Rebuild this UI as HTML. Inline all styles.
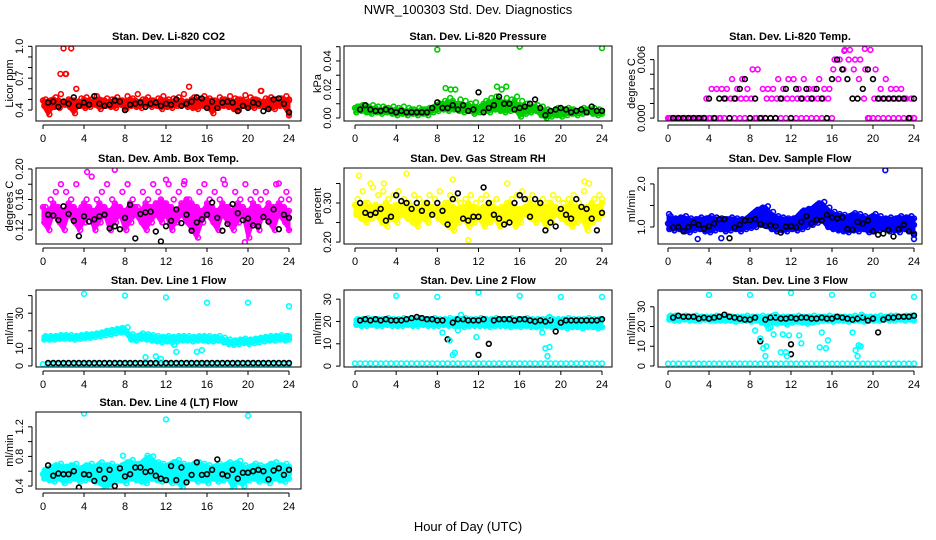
<!DOCTYPE html>
<html><head><meta charset="utf-8"><style>
html,body{margin:0;padding:0;background:#fff;}
svg{display:block;font-family:"Liberation Sans",Arial,sans-serif;}
</style></head><body>
<svg id="chart" width="936" height="540" viewBox="0 0 936 540" xmlns="http://www.w3.org/2000/svg">
<rect x="0" y="0" width="936" height="540" fill="#fff"/>
<text x="468" y="14" text-anchor="middle" font-size="13">NWR_100303 Std. Dev. Diagnostics</text>
<text x="468" y="531" text-anchor="middle" font-size="13">Hour of Day (UTC)</text>
</svg>
<script>
// ---------- data ----------
const hourTicks = [0,4,8,12,16,20,24];

const co2Hi = [0.50,0.49,0.52,0.55,0.74,0.98,0.60,0.51,0.52,0.50,0.53,0.49,0.51,0.50,0.52,0.49,0.53,0.51,0.55,0.50,0.52,0.49,0.51,0.53,0.50,0.51,0.52,0.55,0.62,0.52,0.50,0.53,0.51,0.49,0.52,0.50,0.53,0.51,0.50,0.54,0.52,0.50,0.58,0.51,0.52,0.50,0.51,0.53,0.50];
const co2Lo = [0.44,0.36,0.43,0.42,0.45,0.43,0.37,0.44,0.42,0.43,0.45,0.41,0.44,0.43,0.42,0.45,0.41,0.44,0.43,0.42,0.45,0.43,0.44,0.41,0.43,0.42,0.44,0.45,0.43,0.42,0.41,0.44,0.43,0.37,0.42,0.44,0.43,0.41,0.40,0.44,0.43,0.42,0.44,0.43,0.42,0.41,0.44,0.43,0.35];
const co2Mid = [0.49,0.48,0.50,0.49,0.48,0.50,0.49,0.48,0.50,0.49,0.48,0.50,0.49,0.48,0.50,0.49,0.48,0.50,0.49,0.48,0.50,0.49,0.48,0.50,0.49,0.48,0.50,0.49,0.48,0.50,0.49,0.48,0.50,0.49,0.48,0.50,0.49,0.48,0.50,0.49,0.48,0.50,0.49,0.48,0.50,0.49,0.48,0.50,0.49];
const co2Blk = [0.47,0.48,0.43,0.48,0.46,0.52,0.44,0.47,0.45,0.53,0.46,0.44,0.45,0.49,0.48,0.40,0.45,0.46,0.47,0.43,0.46,0.47,0.44,0.46,0.45,0.50,0.44,0.46,0.48,0.52,0.51,0.42,0.48,0.42,0.47,0.48,0.47,0.39,0.44,0.42,0.47,0.46,0.39,0.41,0.50,0.51,0.46,0.38];
const co2OutX = [1.7,2.0,2.2,21.3];
const co2OutY = [0.74,0.98,0.74,0.58];

const presHi = [0.008,0.009,0.008,0.009,0.008,0.008,0.007,0.008,0.007,0.008,0.007,0.006,0.007,0.006,0.007,0.008,0.010,0.012,0.014,0.020,0.013,0.012,0.010,0.011,0.008,0.012,0.014,0.015,0.020,0.014,0.013,0.015,0.012,0.010,0.008,0.009,0.008,0.006,0.004,0.007,0.006,0.007,0.006,0.005,0.007,0.006,0.007,0.006,0.005];
const presLo = [0.004,0.005,0.004,0.003,0.004,0.003,0.004,0.003,0.002,0.003,0.002,0.003,0.002,0.003,0.002,0.004,0.005,0.006,0.005,0.006,0.005,0.004,0.005,0.003,0.004,0.005,0.004,0.006,0.005,0.004,0.005,0.006,0.001,0.003,0.004,0.005,0.002,0.000,0.001,0.002,0.001,0.002,0.003,0.002,0.003,0.004,0.003,0.002,0.003];
const presMid = [0.007,0.008,0.007,0.007,0.007,0.006,0.007,0.006,0.006,0.006,0.005,0.006,0.005,0.006,0.006,0.007,0.009,0.010,0.011,0.012,0.010,0.009,0.009,0.008,0.007,0.010,0.011,0.012,0.013,0.011,0.010,0.012,0.009,0.008,0.007,0.008,0.006,0.005,0.004,0.006,0.005,0.006,0.006,0.005,0.006,0.006,0.006,0.005,0.005];
const presBlk = [0.006,0.009,0.006,0.005,0.005,0.006,0.005,0.004,0.005,0.004,0.004,0.004,0.004,0.004,0.007,0.011,0.007,0.007,0.009,0.006,0.009,0.005,0.006,0.018,0.004,0.007,0.009,0.015,0.010,0.010,0.006,0.007,0.008,0.010,0.013,0.007,0.002,0.005,0.006,0.007,0.006,0.004,0.005,0.006,0.004,0.008,0.005,0.005];
const presOutX = [8,16,24,8.8,9.3,13.8,14.7];
const presOutY = [0.048,0.050,0.049,0.021,0.020,0.022,0.022];

const tempHi = [0,0,0,0,0,0,0,0.002,0.003,0.003,0.003,0.003,0.004,0.003,0.004,0.003,0.005,0.005,0.003,0.003,0.003,0.004,0.003,0.004,0.004,0.003,0.004,0.003,0.003,0.004,0.003,0.003,0.006,0.006,0.007,0.007,0.006,0.006,0.005,0.007,0.005,0.003,0.004,0.003,0.003,0.003,0.002,0.002,0];
const tempLo = [0,0,0,0,0,0,0,0,0,0,0,0.002,0.002,0.002,0.002,0.002,0.002,0,0,0.002,0.002,0.002,0.002,0.002,0.002,0.002,0.002,0.002,0.002,0.002,0.002,0.002,0.005,0.004,0.005,0.006,0.005,0.004,0.002,0,0.002,0.002,0.002,0.002,0.002,0.002,0.002,0,0];
const tempMid = [0,0,0,0,0,0,0,0,0,0,0,0,0,0,0,0,0,0,0,0,0,0,0,0,0,0,0,0,0,0,0,0,0,null,null,null,null,null,null,0,0,0,0,0,0,0,0,0,0];
const tempBlk = [0,0,0,0,0,0,0,0.002,0,0.002,0.002,0,0.002,0.003,0.004,0,0.002,0,0,0,0,0.002,0.003,0,0.003,0.002,0.003,0.002,0.003,0.002,0,0.004,0.006,0.005,0.004,0.002,0.002,0.003,0.005,0.004,0.002,0.002,0.002,0.002,0.002,0.002,0,0.002];
const tempOutX = [19.2,17.2];
const tempOutY = [0.0071,0.0069];

const ambHi = [0.15,0.16,0.17,0.18,0.17,0.16,0.18,0.15,0.16,0.19,0.16,0.17,0.18,0.16,0.15,0.17,0.18,0.16,0.15,0.17,0.16,0.18,0.17,0.15,0.18,0.16,0.17,0.18,0.16,0.15,0.17,0.18,0.16,0.17,0.16,0.18,0.15,0.17,0.16,0.18,0.16,0.17,0.16,0.17,0.15,0.18,0.16,0.17,0.16];
const ambLo = [0.13,0.12,0.14,0.13,0.12,0.14,0.13,0.12,0.13,0.14,0.12,0.13,0.14,0.12,0.13,0.14,0.12,0.13,0.14,0.13,0.12,0.13,0.14,0.13,0.14,0.12,0.13,0.14,0.13,0.12,0.11,0.13,0.14,0.13,0.12,0.14,0.13,0.12,0.13,0.14,0.11,0.13,0.12,0.14,0.13,0.12,0.14,0.13,0.12];
const ambMid = [0.150,0.145,0.155,0.150,0.145,0.155,0.150,0.145,0.155,0.150,0.145,0.155,0.150,0.145,0.155,0.150,0.145,0.155,0.150,0.145,0.155,0.150,0.155,0.160,0.155,0.150,0.145,0.155,0.160,0.155,0.150,0.145,0.155,0.150,0.145,0.155,0.150,0.145,0.155,0.150,0.145,0.155,0.150,0.145,0.155,0.150,0.155,0.150,0.145];
const ambBlk = [0.14,0.139,0.133,0.151,0.141,0.132,0.112,0.138,0.131,0.134,0.138,0.14,0.122,0.125,0.121,0.136,0.153,0.109,0.141,0.143,0.144,0.118,0.105,0.125,0.132,0.147,0.129,0.14,0.119,0.13,0.134,0.14,0.156,0.136,0.119,0.128,0.154,0.142,0.133,0.135,0.126,0.125,0.137,0.131,0.147,0.121,0.14,0.136];
const ambOutX = [4.3,7,19.7,12,13.8,17.6,23];
const ambOutY = [0.196,0.199,0.104,0.186,0.184,0.186,0.181];

const rhHi = [0.31,0.33,0.30,0.34,0.32,0.33,0.31,0.32,0.33,0.31,0.30,0.32,0.31,0.30,0.32,0.31,0.33,0.30,0.32,0.31,0.30,0.31,0.32,0.30,0.31,0.32,0.30,0.31,0.29,0.30,0.31,0.32,0.33,0.31,0.32,0.30,0.31,0.30,0.32,0.31,0.30,0.31,0.32,0.30,0.33,0.35,0.31,0.32,0.31];
const rhLo = [0.27,0.26,0.25,0.26,0.27,0.25,0.24,0.26,0.25,0.27,0.26,0.25,0.24,0.26,0.25,0.27,0.26,0.25,0.24,0.23,0.25,0.26,0.24,0.25,0.26,0.24,0.25,0.26,0.24,0.25,0.26,0.24,0.25,0.27,0.26,0.25,0.26,0.24,0.25,0.27,0.26,0.25,0.24,0.25,0.26,0.23,0.25,0.26,0.27];
const rhMid = [0.295,0.29,0.30,0.29,0.295,0.29,0.30,0.29,0.295,0.29,0.30,0.29,0.285,0.29,0.30,0.29,0.285,0.29,0.30,0.29,0.285,0.29,0.30,0.29,0.285,0.29,0.30,0.29,0.285,0.29,0.30,0.29,0.285,0.29,0.30,0.29,0.30,0.29,0.30,0.29,0.285,0.29,0.30,0.29,0.285,0.29,0.30,0.29,0.30];
const rhBlk = [0.30,0.275,0.27,0.275,0.285,0.255,0.265,0.32,0.305,0.30,0.285,0.30,0.28,0.30,0.27,0.30,0.28,0.245,0.31,0.325,0.26,0.255,0.265,0.265,0.34,0.30,0.27,0.26,0.245,0.25,0.30,0.32,0.31,0.265,0.31,0.30,0.23,0.25,0.24,0.285,0.27,0.26,0.31,0.29,0.285,0.26,0.23,0.275];
const rhOutX = [0.4,5,9.5,11,1.5,2.8,14.8,22.3];
const rhOutY = [0.37,0.375,0.36,0.205,0.35,0.35,0.35,0.355];

const sfHi = [1.25,1.2,1.22,1.25,1.2,1.18,1.22,1.2,1.25,1.22,1.2,1.18,1.22,1.2,1.18,1.2,1.3,1.4,1.45,1.48,1.35,1.25,1.22,1.2,1.2,1.25,1.38,1.42,1.45,1.55,1.58,1.45,1.35,1.3,1.28,1.25,1.32,1.3,1.25,1.22,1.3,1.25,1.2,1.22,1.2,1.25,1.22,1.25,1.2];
const sfLo = [0.95,0.92,0.95,0.9,0.88,0.93,0.95,0.9,0.88,0.92,0.95,0.9,0.92,0.95,0.9,0.95,0.98,1.0,1.05,1.02,0.95,0.9,0.92,0.9,0.95,0.92,0.95,1.0,1.05,1.1,1.15,1.0,0.95,0.92,0.9,0.88,0.92,0.9,0.95,0.88,0.9,0.92,0.95,0.9,0.92,0.88,0.95,0.9,0.85];
const sfMid = [1.08,1.1,1.05,1.08,1.1,1.05,1.08,1.1,1.05,1.08,1.1,1.05,1.08,1.1,1.05,1.1,1.15,1.2,1.25,1.22,1.15,1.1,1.08,1.05,1.1,1.1,1.15,1.2,1.3,1.35,1.38,1.25,1.15,1.12,1.1,1.08,1.12,1.1,1.08,1.05,1.1,1.08,1.05,1.1,1.08,1.05,1.1,1.08,1.05];
const sfBlk = [0.99,1.0,0.9,1.0,1.1,1.05,0.96,1.02,1.08,1.18,1.18,0.74,0.99,1.05,1.15,1.16,1.18,1.07,1.03,1.04,1.02,0.87,1.01,1.02,0.99,1.12,1.25,1.08,1.17,1.15,1.28,1.22,1.2,1.22,0.95,0.94,1.12,1.08,1.15,0.9,0.82,0.85,0.93,0.78,0.95,1.05,0.9,0.82];
const sfOutX = [21.2,0.1,24,2.9,5.2];
const sfOutY = [2.32,1.3,0.72,0.72,0.74];

const l1Hi = [17,17,17,17.5,17.5,17.5,17,17.5,18,18,18.5,19,20,20.5,21,21.5,22,18,17,18.5,18,17.5,17,16.5,17,16.5,17,17,17,16.5,17,17,17,16.5,17,16,15,14.5,15,15.5,15,15.5,16,16.5,17,17,17.5,17,17];
const l1Lo = [15,15,15,15.5,15.5,15.5,15,15.5,16,16,16.5,17,17.5,18,18.5,19,19,15,14.5,15.5,15,14.5,14,13.5,14,13.5,14,14.5,14.5,14,14.5,14.5,14,14,14.5,13.5,12.5,12,12.5,13,12.5,13,13.5,14,14.5,14.5,15,14.5,15];
const l1Base = [1,1,1,1,1,1,1,1,1,1,1,1,1,1,1,1,1,1,1,1,1,1,1,1,1,1,1,1,1,1,1,1,1,1,1,1,1,1,1,1,1,1,1,1,1,1,1,1,1];
const l1Blk = [1.7,1.7,1.7,1.7,1.7,1.7,1.7,1.7,1.7,1.7,1.7,1.7,1.7,1.7,1.7,1.7,1.7,1.7,1.7,1.7,1.7,1.7,1.7,1.7,1.7,1.7,1.7,1.7,1.7,1.7,1.7,1.7,1.7,1.7,1.7,1.7,1.7,1.7,1.7,1.7,1.7,1.7,1.7,1.7,1.7,1.7,1.7,1.7];
const l1OutX = [4,8,12,16,20,24,10,11,11.5,15,15.5,12.8,13];
const l1OutY = [41,40,39,36,36,34,5,5.5,4,8,9,12,8];

const l2Hi = [21,21,21.5,21,21,21,21.5,21,21,21.5,21,21,21.5,21,21,21.5,21,21,21.5,21,21,21.5,21,21,21.5,21,21,21.5,21,21,21.5,21,21,21.5,21,21,21,21.5,21,21,21,21.5,21,21,21,21.5,21,21,21];
const l2Lo = [18.5,18,18,18.5,18,18,18.5,18,18,18,18.5,18,18,18.5,18,18,18,18.5,18,18,18,17.5,18,18,18,18,17.5,18,18,18,17.5,18,17.5,18,17.5,17.5,17.5,18,17.5,17.5,17.5,17,17.5,17.5,17,17.5,17.5,17,17.5];
const l2Base = [1.2,1.2,1.2,1.2,1.2,1.2,1.2,1.2,1.2,1.2,1.2,1.2,1.2,1.2,1.2,1.2,1.2,1.2,1.2,1.2,1.2,1.2,1.2,1.2,1.2,1.2,1.2,1.2,1.2,1.2,1.2,1.2,1.2,1.2,1.2,1.2,1.2,1.2,1.2,1.2,1.2,1.2,1.2,1.2,1.2,1.2,1.2,1.2,1.2];
const l2Blk = [20.5,21,20.5,21,20.5,21,20.5,20.5,20.5,21,21.5,22,21.5,21,21,20.5,20.5,12,19.5,21,21,20.5,20.5,20.5,21,10,20.5,21,21,21,20.5,21,21,20.5,20,20.5,20,20.5,15.5,19.5,20.5,20.5,20.5,20.5,20.5,20.5,20.5,21];
const l2OutX = [4,8,12,16,20,24,8.5,9.2,9.5,9.7,10,11.8,18.2,18.5,18.7,18.9,10.3,18.9];
const l2OutY = [31.5,31,33,31.5,31,31,15,11.5,5,6,16,13,15,8,4.5,8.5,23,22];

const l3Hi = [25.5,25.5,25,25.5,25,25.5,25,25,25,25.5,25,25.5,25,25,25,25.5,25,25,25.5,25,25.5,25,25,25,25,25.5,25,25,25.5,25,25,25.5,25,25,25,25,25.5,25,25,25,25,25.5,25,25.5,25.5,25,25.5,25.5,25.5];
const l3Lo = [23.5,23,23,23.5,23,23,23,23.5,23,23,23,23,23,22.5,23,23,22.5,23,22,21,22,21.5,22,21,22,22.5,22,21.5,22,22.5,23,23,22.5,23,23,22.5,23,23,22.5,23,23,23,23.5,23,23,23.5,23,23.5,23];
const l3Base = [1.2,1.2,1.2,1.2,1.2,1.2,1.2,1.2,1.2,1.2,1.2,1.2,1.2,1.2,1.2,1.2,1.2,1.2,1.2,1.2,1.2,1.2,1.2,1.2,1.2,1.2,1.2,1.2,1.2,1.2,1.2,1.2,1.2,1.2,1.2,1.2,1.2,1.2,1.2,1.2,1.2,1.2,1.2,1.2,1.2,1.2,1.2,1.2,1.2];
const l3Blk = [24.5,25.5,25,25,25,24,24.5,24,24.5,25,26,25,24.5,24,23.5,23.5,24.5,12.5,23.5,24.5,24.5,24,24,24.5,24,24.5,24.5,24,24,24.5,24,24,25,24.5,24,23.5,24,24.5,23,24,17,23.5,24.5,24.5,25,25,25,25.5];
const l3OutX = [4,8,12,16,20,24,8.5,9,9.3,9.6,9.5,9.8,10,10.3,10.5,11,11.2,11.5,11.6,11.8,12.8,13,14.8,15,15.4,15.6,18,18.3,18.5,18.6,18.8,18.9];
const l3OutY = [36,36,37,36,36,35,18,14,9,10,5,19,19.5,16,26,7,16,7,5,15.5,15.5,11.5,9.5,17,9,13,17,8,5,10.5,10,26];

const l4Hi = [0.62,0.65,0.68,0.7,0.66,0.68,0.7,0.64,0.68,0.7,0.66,0.72,0.68,0.7,0.66,0.68,0.72,0.75,0.7,0.72,0.78,0.8,0.72,0.7,0.68,0.72,0.75,0.7,0.68,0.7,0.72,0.7,0.68,0.66,0.7,0.68,0.72,0.7,0.74,0.68,0.66,0.7,0.68,0.66,0.7,0.72,0.68,0.7,0.66];
const l4Lo = [0.5,0.48,0.46,0.5,0.44,0.48,0.5,0.46,0.48,0.5,0.46,0.44,0.38,0.42,0.46,0.48,0.44,0.5,0.48,0.46,0.44,0.5,0.48,0.46,0.48,0.44,0.46,0.38,0.48,0.5,0.46,0.48,0.44,0.5,0.46,0.48,0.5,0.38,0.46,0.4,0.48,0.5,0.46,0.48,0.44,0.5,0.48,0.46,0.5];
const l4Mid = [0.56,0.58,0.57,0.59,0.56,0.58,0.57,0.59,0.56,0.58,0.57,0.59,0.56,0.58,0.6,0.59,0.56,0.58,0.6,0.62,0.6,0.58,0.6,0.58,0.56,0.58,0.6,0.58,0.56,0.58,0.57,0.59,0.56,0.58,0.57,0.59,0.56,0.58,0.57,0.59,0.56,0.58,0.57,0.59,0.56,0.58,0.57,0.59,0.57];
const l4Blk = [0.68,0.54,0.57,0.56,0.56,0.6,0.38,0.56,0.55,0.47,0.62,0.5,0.62,0.4,0.64,0.53,0.56,0.65,0.65,0.59,0.6,0.54,0.5,0.48,0.67,0.48,0.65,0.45,0.55,0.72,0.55,0.56,0.62,0.76,0.56,0.54,0.62,0.5,0.58,0.58,0.6,0.62,0.6,0.49,0.61,0.64,0.55,0.62];
const l4OutX = [4,12,20,7.8,10.2,5.8,18.4];
const l4OutY = [1.38,1.3,1.35,0.81,0.81,0.33,0.34];

// ---------- layout ----------
const cols = [{l:36,r:301,x0:43,x24:289},{l:344,r:612,x0:355,x24:602},{l:658,r:922,x0:668,x24:914}];
const rows = [{t:46,b:121},{t:168,b:244},{t:290,b:367},{t:412,b:489}];

const panels = [
 {name:'co2',title:'Stan. Dev. Li-820 CO2',ylab:'Licor ppm',c:0,r:0,ymin:0.297,ymax:1.003,color:'#ff0000',
  ticks:[0.4,0.5,0.6,0.7,0.8,0.9,1.0],labels:{'0.4':'0.4','0.7':'0.7','1':'1.0'},series:[co2Mid,co2Hi,co2Lo],band:[co2Mid,co2Lo],blk:co2Blk,ox:co2OutX,oy:co2OutY},
 {name:'pressure',title:'Stan. Dev. Li-820 Pressure',ylab:'kPa',c:1,r:0,ymin:-0.0021,ymax:0.0505,color:'#00cc00',
  ticks:[0,0.01,0.02,0.03,0.04,0.05],labels:{'0':'0.00','0.02':'0.02','0.04':'0.04'},series:[presMid,presHi,presLo],band:[presMid,presLo],blk:presBlk,ox:presOutX,oy:presOutY},
 {name:'temp',title:'Stan. Dev. Li-820 Temp.',ylab:'degrees C',c:2,r:0,ymin:-0.0003,ymax:0.0074,color:'#ff00ff',
  ticks:[0,0.0015,0.003,0.0045,0.006],labels:{'0':'0.000','0.006':'0.006'},series:[tempMid,tempHi,tempLo],band:null,blk:tempBlk,ox:tempOutX,oy:tempOutY},
 {name:'amb-temp',title:'Stan. Dev. Amb. Box Temp.',ylab:'degrees C',c:0,r:1,ymin:0.1016,ymax:0.2013,color:'#ff00ff',
  ticks:[0.12,0.14,0.16,0.18,0.20],labels:{'0.12':'0.12','0.16':'0.16','0.2':'0.20'},series:[ambMid,ambHi,ambLo],band:[ambMid,ambLo],blk:ambBlk,ox:ambOutX,oy:ambOutY},
 {name:'rh',title:'Stan. Dev. Gas Stream RH',ylab:'percent',c:1,r:1,ymin:0.195,ymax:0.3897,color:'#ffff00',
  ticks:[0.20,0.25,0.30,0.35],labels:{'0.2':'0.20','0.3':'0.30'},series:[rhMid,rhHi,rhLo],band:[rhMid,rhLo],blk:rhBlk,ox:rhOutX,oy:rhOutY},
 {name:'sample-flow',title:'Stan. Dev. Sample Flow',ylab:'ml/min',c:2,r:1,ymin:0.605,ymax:2.37,color:'#0000ff',
  ticks:[1.0,1.5,2.0],labels:{'1':'1.0','2':'2.0'},series:[sfMid,sfHi,sfLo],band:[sfHi,sfLo],blk:sfBlk,ox:sfOutX,oy:sfOutY},
 {name:'line1',title:'Stan. Dev. Line 1 Flow',ylab:'ml/min',c:0,r:2,ymin:-0.6,ymax:43.2,color:'#00ffff',
  ticks:[0,10,20,30,40],labels:{'0':'0','10':'10','30':'30'},series:[l1Base,l1Hi,l1Lo],band:[l1Hi,l1Lo],blk:l1Blk,ox:l1OutX,oy:l1OutY},
 {name:'line2',title:'Stan. Dev. Line 2 Flow',ylab:'ml/min',c:1,r:2,ymin:-0.4,ymax:34.1,color:'#00ffff',
  ticks:[0,10,20,30],labels:{'0':'0','10':'10','20':'20','30':'30'},series:[l2Base,l2Hi,l2Lo],band:[l2Hi,l2Lo],blk:l2Blk,ox:l2OutX,oy:l2OutY,bx:[12],by:[5]},
 {name:'line3',title:'Stan. Dev. Line 3 Flow',ylab:'ml/min',c:2,r:2,ymin:-0.5,ymax:38.5,color:'#00ffff',
  ticks:[0,10,20,30],labels:{'0':'0','10':'10','20':'20','30':'30'},series:[l3Base,l3Hi,l3Lo],band:[l3Hi,l3Lo],blk:l3Blk,ox:l3OutX,oy:l3OutY,bx:[12,12],by:[6,11]},
 {name:'line4',title:'Stan. Dev. Line 4 (LT) Flow',ylab:'ml/min',c:0,r:3,ymin:0.36,ymax:1.40,color:'#00ffff',
  ticks:[0.4,0.6,0.8,1.0,1.2],labels:{'0.4':'0.4','0.8':'0.8','1.2':'1.2'},series:[l4Mid,l4Hi,l4Lo],band:[l4Hi,l4Lo],blk:l4Blk,ox:l4OutX,oy:l4OutY}
];

// ---------- drawing ----------
const NS = 'http://www.w3.org/2000/svg';
const svg = document.getElementById('chart');
function mk(tag, attrs, parent){
  const e = document.createElementNS(NS, tag);
  for (const k in attrs) e.setAttribute(k, attrs[k]);
  parent.appendChild(e);
  return e;
}
function circle(g, cx, cy, col, nm){
  const c = mk('circle', {cx:cx.toFixed(1), cy:cy.toFixed(1), r:2.4, fill:'none', stroke:col, 'stroke-width':1.6}, g);
  
  
}

panels.forEach(p => {
  const col = cols[p.c], row = rows[p.r];
  const xs = h => col.x0 + (h/24)*(col.x24 - col.x0);
  const ys = v => row.b - (v - p.ymin)/(p.ymax - p.ymin)*(row.b - row.t);
  const g = mk('g', {}, svg);
  
  

  const clip = mk('clipPath', {id:'clip-'+p.name}, g);
  mk('rect', {x:col.l, y:row.t, width:col.r-col.l, height:row.b-row.t}, clip);
  const pts = mk('g', {'clip-path':'url(#clip-'+p.name+')'}, g);
  
  

  if (p.band) {
    const up = p.band[0], lo = p.band[1];
    let d = '';
    up.forEach((v, i) => { d += (i ? 'L' : 'M') + xs(i*24/(up.length-1)).toFixed(1) + ',' + ys(v).toFixed(1); });
    for (let i = lo.length-1; i >= 0; i--) d += 'L' + xs(i*24/(lo.length-1)).toFixed(1) + ',' + ys(lo[i]).toFixed(1);
    d += 'Z';
    const band = mk('path', {d:d, fill:p.color, stroke:p.color, 'stroke-width':3, 'stroke-linejoin':'round'}, pts);
    
    
  }

  p.series.forEach((s, si) => {
    const off = si === 1 ? 0.25 : (si === 2 ? 0.125 : 0);
    s.forEach((v, i) => {
      if (v === null) return;
      const h = Math.min(24, i*24/(s.length-1) + off);
      circle(pts, xs(h), ys(v), p.color, p.name + '-point');
    });
  });
  p.blk.forEach((v, i) => {
    const h = 0.5 + i*23.5/(p.blk.length-1);
    circle(pts, xs(h), ys(v), '#000', p.name + '-hourly-point');
  });
  if (p.bx) p.bx.forEach((h, i) => circle(pts, xs(h), ys(p.by[i]), '#000', p.name + '-hourly-point'));
  p.ox.forEach((h, i) => circle(pts, xs(h), ys(p.oy[i]), p.color, p.name + '-outlier'));

  const box = mk('rect', {x:col.l, y:row.t, width:col.r-col.l, height:row.b-row.t, fill:'none', stroke:'#000', 'stroke-width':1}, g);
  
  

  const t = mk('text', {x:(col.l+col.r)/2, y:row.t-6, 'text-anchor':'middle', 'font-size':11, 'font-weight':'bold'}, g);
  t.textContent = p.title;
  
  

  const xa = mk('g', {}, g);
  
  
  mk('line', {x1:xs(0), x2:xs(24), y1:row.b+4, y2:row.b+4, stroke:'#000'}, xa);
  hourTicks.forEach(h => {
    mk('line', {x1:xs(h), x2:xs(h), y1:row.b+4, y2:row.b+8, stroke:'#000'}, xa);
    const tx = mk('text', {x:xs(h), y:row.b+21, 'text-anchor':'middle', 'font-size':11}, xa);
    tx.textContent = String(h);
    
    
  });

  const ya = mk('g', {}, g);
  
  
  const ax = col.l - 4;
  mk('line', {x1:ax, x2:ax, y1:ys(p.ticks[0]), y2:ys(p.ticks[p.ticks.length-1]), stroke:'#000'}, ya);
  p.ticks.forEach(v => {
    const y = ys(v);
    mk('line', {x1:ax-4, x2:ax, y1:y, y2:y, stroke:'#000'}, ya);
    const key = String(+v.toFixed(5));
    if (p.labels[key] !== undefined) {
      const tx = mk('text', {x:0, y:0, 'text-anchor':'middle', 'font-size':11, transform:'translate('+(ax-9)+','+y.toFixed(1)+') rotate(-90)'}, ya);
      tx.textContent = p.labels[key];
      
      
    }
  });
  const yl = mk('text', {x:0, y:0, 'text-anchor':'middle', 'font-size':11, transform:'translate('+(col.l-23)+','+((row.t+row.b)/2)+') rotate(-90)'}, g);
  yl.textContent = p.ylab;
  
  
});
</script>
</body></html>
